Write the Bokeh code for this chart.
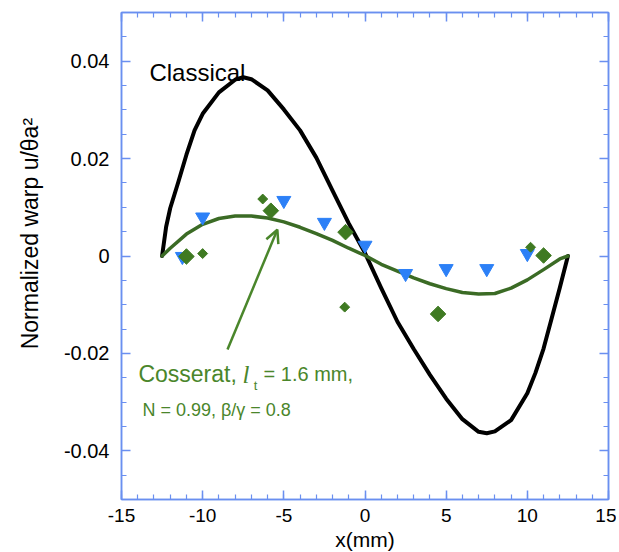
from bokeh.plotting import figure
from bokeh.models import (LinearAxis, Range1d, FixedTicker, CustomJSTickFormatter,
                          Label, Arrow, OpenHead)
from bokeh.embed import file_html
from bokeh.resources import INLINE
import math

# ---------------- data ----------------
classical_x = [-12.5, -12.25, -12.0, -11.5, -11.0, -10.5, -10.0, -9.0, -8.0, -7.5, -7.0, -6.0,
               -5.0, -4.0, -3.0, -2.0, -1.0, 0.0, 1.0, 2.0, 3.0, 4.0, 5.0, 6.0, 7.0, 7.5,
               8.0, 9.0, 10.0, 10.5, 11.0, 11.5, 12.0, 12.5]
classical_y = [0.0, 0.0060, 0.0098, 0.0152, 0.0208, 0.0258, 0.0292, 0.0336, 0.0362, 0.0367,
               0.0363, 0.0340, 0.0301, 0.0258, 0.0202, 0.0134, 0.0067, 0.0006, -0.0066,
               -0.0135, -0.0191, -0.0244, -0.0293, -0.0335, -0.0361, -0.0364, -0.0360,
               -0.0337, -0.0282, -0.0240, -0.0190, -0.0128, -0.0065, 0.0]

cosserat_x = [-12.5, -12.0, -11.0, -10.0, -9.0, -8.0, -7.0, -6.0, -5.0, -4.0, -3.0, -2.0,
              -1.0, 0.0, 1.0, 2.0, 3.0, 4.0, 5.0, 6.0, 7.0, 8.0, 9.0, 10.0, 11.0, 12.0, 12.5]
cosserat_y = [0.0, 0.0016, 0.0045, 0.0065, 0.0077, 0.0082, 0.0082, 0.0078, 0.0070, 0.0059,
              0.0046, 0.0032, 0.0016, 0.0001, -0.0017, -0.0031, -0.0045, -0.0057, -0.0067,
              -0.0075, -0.0078, -0.0077, -0.0066, -0.0049, -0.0028, -0.0006, 0.0]

tri_x = [-11.25, -10.0, -5.0, -2.5, 0.0, 2.5, 5.0, 7.5, 10.0]
tri_y = [-0.0001, 0.0080, 0.0114, 0.0069, 0.0022, -0.0036, -0.0026, -0.0026, 0.0005]

big_dia_x = [-11.0, -5.8, -1.2, 4.5, 11.0]
big_dia_y = [-0.0001, 0.0093, 0.0049, -0.0119, 0.0001]

small_dia_x = [-10.0, -6.3, -1.25, 10.2]
small_dia_y = [0.0005, 0.0117, -0.0105, 0.0018]

x_major = [-15, -10, -5, 0, 5, 10, 15]
x_minor = list(range(-15, 16))
y_major = [-0.04, -0.02, 0.0, 0.02, 0.04]
y_minor = [round(-0.05 + 0.005 * i, 3) for i in range(21)]

arrow_start = (-8.47, -0.0192)
arrow_end = (-5.4, 0.0054)

# ---------------- styles ----------------
FRAME = "#6a8ff0"
GREEN_LINE = "#3b6b25"
GREEN_MARK = "#3f7a22"
GREEN_TEXT = "#4a862b"
BLUE = "#2c80f7"
FONT = "Liberation Sans"
NB = "\u00a0"

p = figure(x_range=Range1d(-15, 15), y_range=Range1d(-0.05, 0.05),
           frame_width=487, frame_height=487,
           min_border_left=121, min_border_right=8, min_border_top=12, min_border_bottom=53,
           output_backend="svg", toolbar_location=None,
           background_fill_color="white", border_fill_color="white")

p.xgrid.visible = False
p.ygrid.visible = False
p.outline_line_color = FRAME
p.outline_line_width = 1.5

fmt_y = CustomJSTickFormatter(code="return tick == 0 ? '0' : tick.toFixed(2);")
fmt_x = CustomJSTickFormatter(code="return String(tick);")
empty = CustomJSTickFormatter(code="return '';")

def style_axis(ax, size="20px", labels=True):
    ax.axis_line_color = FRAME
    ax.axis_line_width = 1.5
    ax.major_tick_line_color = FRAME
    ax.minor_tick_line_color = FRAME
    ax.major_tick_line_width = 1.5
    ax.minor_tick_line_width = 1.2
    ax.major_tick_in = 9
    ax.major_tick_out = 0
    ax.minor_tick_in = 5
    ax.minor_tick_out = 0
    ax.major_label_text_font = FONT
    ax.major_label_text_color = "black"
    if labels:
        ax.major_label_text_font_size = size
    else:
        ax.major_label_text_font_size = "0px"
        ax.major_label_standoff = 0
        ax.formatter = empty

xt = FixedTicker(ticks=x_major, minor_ticks=x_minor)
yt = FixedTicker(ticks=y_major, minor_ticks=y_minor)

p.xaxis.ticker = xt
p.yaxis.ticker = yt
p.xaxis.formatter = fmt_x
p.yaxis.formatter = fmt_y
style_axis(p.xaxis[0], "19px")
style_axis(p.yaxis[0], "20px")
p.xaxis.major_label_standoff = 9
p.yaxis.major_label_standoff = 12
p.xaxis.axis_label = "x(mm)"
p.yaxis.axis_label = NB * 7 + "Normalized warp u/θa²"
for ax in (p.xaxis[0], p.yaxis[0]):
    ax.axis_label_text_font = FONT
    ax.axis_label_text_font_style = "normal"
    ax.axis_label_text_color = "black"
p.xaxis.axis_label_text_font_size = "21px"
p.yaxis.axis_label_text_font_size = "23px"
p.xaxis.axis_label_standoff = 3
p.yaxis.axis_label_standoff = 18

top_ax = LinearAxis(ticker=xt)
right_ax = LinearAxis(ticker=yt)
style_axis(top_ax, labels=False)
style_axis(right_ax, labels=False)
p.add_layout(top_ax, "above")
p.add_layout(right_ax, "right")

# curves
p.line(classical_x, classical_y, line_color="black", line_width=4, line_join="round", line_cap="round")
p.line(cosserat_x, cosserat_y, line_color=GREEN_LINE, line_width=3.5, line_join="round", line_cap="round")

# markers
p.scatter(tri_x, tri_y, marker="inverted_triangle", size=14, fill_color=BLUE, line_color=BLUE)
p.scatter(big_dia_x, big_dia_y, marker="square", angle=math.pi / 4, size=11,
          fill_color=GREEN_MARK, line_color=GREEN_MARK)
p.scatter(small_dia_x, small_dia_y, marker="square", angle=math.pi / 4, size=7,
          fill_color=GREEN_MARK, line_color=GREEN_MARK)

# arrow
p.add_layout(Arrow(x_start=arrow_start[0], y_start=arrow_start[1],
                   x_end=arrow_end[0], y_end=arrow_end[1],
                   line_color=GREEN_TEXT, line_width=2.5,
                   end=OpenHead(size=13, line_color=GREEN_TEXT, line_width=2.5)))

# texts
p.add_layout(Label(x=-13.28, y=0.0377, text="Classical", text_font=FONT,
                   text_font_size="24px", text_color="black", text_baseline="alphabetic"))
p.add_layout(Label(x=-13.96, y=-0.0243, text="Cosserat,", text_font=FONT,
                   text_font_size="23px", text_color=GREEN_TEXT, text_baseline="alphabetic"))
p.add_layout(Label(x=-7.55, y=-0.0243, text="l", text_font="Liberation Serif",
                   text_font_style="italic", text_font_size="25px", text_color=GREEN_TEXT,
                   text_baseline="alphabetic"))
p.add_layout(Label(x=-6.86, y=-0.0266, text="t", text_font=FONT,
                   text_font_size="13px", text_color=GREEN_TEXT, text_baseline="alphabetic"))
p.add_layout(Label(x=-6.25, y=-0.0243, text="= 1.6 mm,", text_font=FONT,
                   text_font_size="20px", text_color=GREEN_TEXT, text_baseline="alphabetic"))
p.add_layout(Label(x=-13.71, y=-0.0317, text="N = 0.99, β/γ = 0.8", text_font=FONT,
                   text_font_size="18px", text_color=GREEN_TEXT, text_baseline="alphabetic"))

open("out.html", "w").write(file_html(p, INLINE))
